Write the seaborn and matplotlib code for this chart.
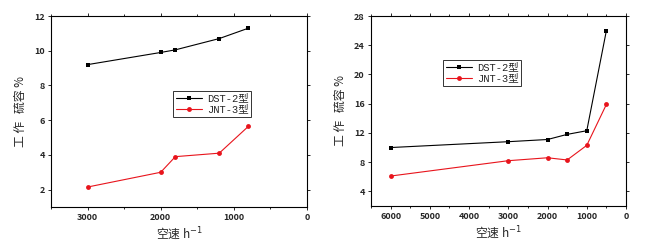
import matplotlib
matplotlib.use("Agg")
import matplotlib.pyplot as plt
import seaborn as sns
import pandas as pd
from matplotlib.ticker import MultipleLocator
from matplotlib.font_manager import FontProperties

sns.set_theme(style="ticks")
plt.rcParams['font.family'] = ['Noto Sans CJK SC', 'DejaVu Sans']

# Left panel data
left_x = [3000, 2000, 1800, 1200, 800]
left_dst = [9.2, 9.9, 10.05, 10.7, 11.3]
left_jnt = [2.15, 3.0, 3.9, 4.1, 5.65]

# Right panel data
right_x = [6000, 3000, 2000, 1500, 1000, 500]
right_dst = [10.0, 10.8, 11.1, 11.8, 12.3, 26.0]
right_jnt = [6.1, 8.2, 8.6, 8.3, 10.3, 15.9]

series_names = ["DST-2型", "JNT-3型"]
xlabel = "空速 h$^{-1}$"
ylabel = "工 作   硫容 %"

fig = plt.figure(figsize=(6.5, 2.44), dpi=100)
ax1 = fig.add_axes([51/650, 1-207/244, (307-51)/650, (207-16)/244])
ax2 = fig.add_axes([371/650, 1-206/244, (626-371)/650, (206-16)/244])

legfont = FontProperties(family=['Liberation Mono', 'Noto Sans CJK SC'], size=7.5)

def draw(ax, xs, a, b, xlim, ylim, xmaj, ymaj, legpos):
    df = pd.DataFrame({"x": xs * 2, "y": a + b,
                       "s": [series_names[0]] * len(xs) + [series_names[1]] * len(xs)})
    sns.lineplot(data=df, x="x", y="y", hue="s", style="s",
                 palette=["black", "#e8141c"], markers=["s", "o"], dashes=False,
                 markersize=3.5, linewidth=0.8, markeredgewidth=0, sort=False,
                 estimator=None, ax=ax)
    ax.set_xlim(*xlim)
    ax.set_ylim(*ylim)
    ax.xaxis.set_major_locator(MultipleLocator(xmaj))
    ax.xaxis.set_minor_locator(MultipleLocator(xmaj / 2))
    ax.yaxis.set_major_locator(MultipleLocator(ymaj))
    ax.tick_params(which="both", direction="out", top=True, right=True, labelsize=6.5,
                   length=2.5, width=0.7, pad=2)
    ax.tick_params(which="minor", length=1.5)
    for lab in ax.get_xticklabels() + ax.get_yticklabels():
        lab.set_fontweight("bold")
    for sp in ax.spines.values():
        sp.set_linewidth(0.8)
        sp.set_color("black")
    ax.set_xlabel(xlabel, fontsize=8.5, labelpad=2)
    ax.set_ylabel(ylabel, fontsize=8.5, labelpad=5)
    leg = ax.legend(loc="upper left", bbox_to_anchor=legpos, prop=legfont, frameon=True,
                    fancybox=False, edgecolor="black", borderpad=0.25, handlelength=2.5,
                    labelspacing=0.1, handletextpad=0.5, borderaxespad=0)
    leg.get_frame().set_linewidth(0.7)
    leg.set_title(None)

draw(ax1, left_x, left_dst, left_jnt, (3500, 0), (1, 12), 1000, 2,
     ((173-51)/256, 1-(91-16)/191))
draw(ax2, right_x, right_dst, right_jnt, (6500, 0), (2, 28), 1000, 4,
     ((443-371)/255, 1-(60-16)/190))

fig.savefig("out.png", dpi=100)
